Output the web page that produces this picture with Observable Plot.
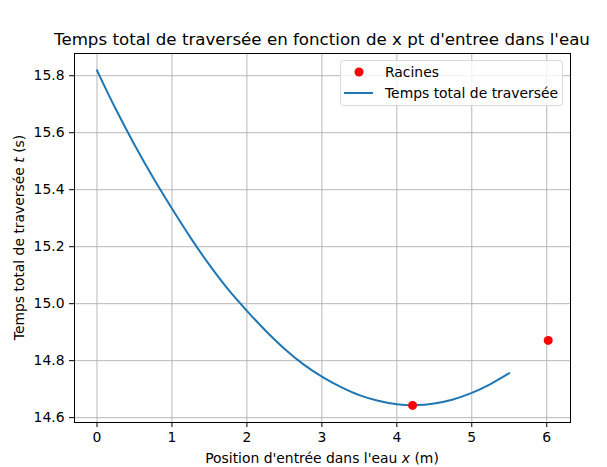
<!DOCTYPE html>
<html><head><meta charset="utf-8">
<script src="https://cdn.jsdelivr.net/npm/d3@7"></script>
<script src="https://cdn.jsdelivr.net/npm/@observablehq/plot@0.6"></script>
<style>body{margin:0;background:#fff} svg{font-family:"DejaVu Sans",sans-serif}</style>
</head><body><div id="chart"></div>
<script>
// Data
const curveX = [0, 0.25, 0.5, 0.75, 1.0, 1.25, 1.5, 1.75, 2.0, 2.25, 2.5, 2.75, 3.0, 3.25, 3.5, 3.75, 4.0, 4.25, 4.5, 4.75, 5.0, 5.25, 5.5];
const curveT = [15.819, 15.683, 15.558, 15.442, 15.334, 15.231, 15.136, 15.050, 14.975, 14.905, 14.842, 14.788, 14.744, 14.708, 14.679, 14.659, 14.647, 14.644, 14.650, 14.664, 14.687, 14.718, 14.756];
const rootX = [4.21, 6.02];
const rootT = [14.643, 14.871];
const xTicks = [0, 1, 2, 3, 4, 5, 6];
const yTicks = [14.6, 14.8, 15.0, 15.2, 15.4, 15.6, 15.8];
const titleText = "Temps total de traversée en fonction de x pt d'entree dans l'eau";
const legendLabels = ["Racines", "Temps total de traversée"];

const curve = curveX.map((x, i) => ({x, t: curveT[i]}));
const roots = rootX.map((x, i) => ({x, t: rootT[i]}));

const W = 607, H = 467, ML = 74, MR = 37, MT = 53, MB = 45;
const plot = Plot.plot({
  width: W, height: H, marginLeft: ML, marginRight: MR, marginTop: MT, marginBottom: MB,
  style: {fontFamily: "DejaVu Sans, sans-serif", fontSize: "13.9px", background: "#fff", color: "#000", overflow: "visible"},
  x: {domain: [-0.30, 6.317], ticks: xTicks, tickSize: 5, tickPadding: 5, tickFormat: d3.format("d"), label: null},
  y: {domain: [14.583, 15.878], ticks: yTicks, tickSize: 5, tickPadding: 5, tickFormat: d3.format(".1f"), label: null},
  marks: [
    Plot.ruleX(xTicks, {stroke: "#b0b0b0", strokeWidth: 0.9}),
    Plot.ruleY(yTicks, {stroke: "#b0b0b0", strokeWidth: 0.9}),
    Plot.line(curve, {x: "x", y: "t", stroke: "#1f77b4", strokeWidth: 2, curve: "catmull-rom"}),
    Plot.dot(roots, {x: "x", y: "t", r: 4.5, fill: "red", stroke: "none"}),
    Plot.frame({stroke: "black", strokeWidth: 1})
  ]
});
document.getElementById("chart").appendChild(plot);

const svg = d3.select(plot);
const cx = (ML + (W - MR)) / 2;
svg.append("text").attr("x", cx).attr("y", 45).attr("text-anchor", "middle")
  .attr("font-size", "16.67px").attr("fill", "#000").text(titleText);

const xl = svg.append("text").attr("x", cx).attr("y", 463).attr("text-anchor", "middle")
  .attr("font-size", "13.9px").attr("fill", "#000");
xl.append("tspan").text("Position d'entrée dans l'eau ");
xl.append("tspan").attr("font-style", "italic").text("x");
xl.append("tspan").text(" (m)");

const yl = svg.append("text").attr("transform", `translate(24,${(MT + H - MB) / 2}) rotate(-90)`)
  .attr("text-anchor", "middle").attr("font-size", "13.9px").attr("fill", "#000");
yl.append("tspan").text("Temps total de traversée ");
yl.append("tspan").attr("font-style", "italic").text("t");
yl.append("tspan").text(" (s)");

// legend
const lg = svg.append("g").attr("text-anchor", "start");
lg.append("rect").attr("x", 340.5).attr("y", 60.5).attr("width", 222).attr("height", 45)
  .attr("rx", 3).attr("fill", "#fff").attr("fill-opacity", 0.8).attr("stroke", "#d9d9d9");
lg.append("circle").attr("cx", 359).attr("cy", 72).attr("r", 4.5).attr("fill", "red");
lg.append("text").attr("x", 385).attr("y", 76.5).attr("text-anchor", "start").attr("font-size", "13.9px").attr("fill", "#000").text(legendLabels[0]);
lg.append("line").attr("x1", 344).attr("x2", 373).attr("y1", 93).attr("y2", 93)
  .attr("stroke", "#1f77b4").attr("stroke-width", 2);
lg.append("text").attr("x", 385).attr("y", 98).attr("text-anchor", "start").attr("font-size", "13.9px").attr("fill", "#000").text(legendLabels[1]);
</script></body></html>
